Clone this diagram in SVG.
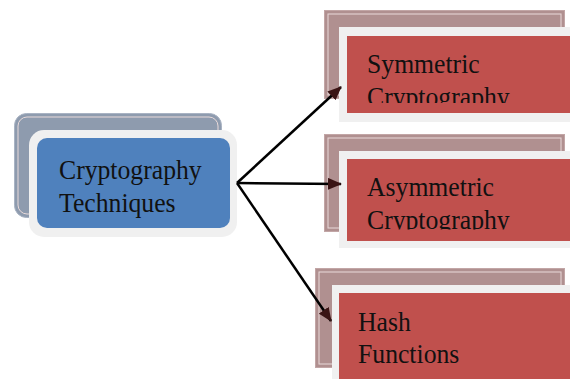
<svg xmlns="http://www.w3.org/2000/svg" width="570" height="379" viewBox="0 0 570 379">
  <style>
    .lbl { font-family: "Liberation Serif", "Times New Roman", serif; font-size: 25.7px; fill: #111; }
    .backBlue { fill: #8e9bae; stroke: #a9b3c3; stroke-width: 1; }
    .backRed { fill: #b09090; stroke: #c2a6a6; stroke-width: 1; }
    .inner { fill: none; stroke: #e9dada; stroke-width: 1; }
    .frame { fill: #f0f0f0; }
    .blue { fill: #4f81bd; }
    .red { fill: #c0504d; }
    .link { stroke: #000; stroke-width: 2.5; fill: none; marker-end: url(#head); }
  </style>
  <defs>
    <marker id="head" viewBox="0 0 14 12" refX="13" refY="6" markerWidth="14" markerHeight="12" markerUnits="userSpaceOnUse" orient="auto">
      <path d="M0,0 L14,6 L0,12 Z" fill="#3a1414"/>
    </marker>
    <clipPath id="clipSym"><rect x="347" y="36" width="223" height="67"/></clipPath>
    <clipPath id="clipAsym"><rect x="347" y="159" width="223" height="70.5"/></clipPath>
  </defs>
  <rect width="570" height="379" fill="#fff"/>

  <!-- root -->
  <g id="node-root">
    <rect class="backBlue" x="14.5" y="113.5" width="207" height="104" rx="12"/>
    <rect class="inner" x="18" y="117" width="200" height="97" rx="9" stroke="#c9d0dc"/>
    <rect class="frame" x="29" y="130" width="208" height="107" rx="15"/>
    <rect class="blue" x="37" y="138" width="193" height="90" rx="10"/>
    <text class="lbl" transform="translate(59,179) scale(1,1.1)">Cryptography</text>
    <text class="lbl" transform="translate(59,212) scale(1,1.1)">Techniques</text>
  </g>

  <!-- symmetric -->
  <g id="node-symmetric">
    <rect class="backRed" x="324.5" y="10.5" width="240" height="88"/>
    <rect class="inner" x="328" y="14" width="233" height="81"/>
    <rect class="frame" x="339" y="27" width="231" height="95"/>
    <rect class="red" x="347" y="36" width="223" height="77"/>
    <g clip-path="url(#clipSym)">
      <text class="lbl" transform="translate(367,73) scale(1,1.1)">Symmetric</text>
      <text class="lbl" transform="translate(367,106) scale(1,1.1)">Cryptography</text>
    </g>
  </g>

  <!-- asymmetric -->
  <g id="node-asymmetric">
    <rect class="backRed" x="324.5" y="134.5" width="240" height="97"/>
    <rect class="inner" x="328" y="138" width="233" height="90"/>
    <rect class="frame" x="339" y="151" width="231" height="97"/>
    <rect class="red" x="347" y="159" width="223" height="82"/>
    <g clip-path="url(#clipAsym)">
      <text class="lbl" transform="translate(367,196) scale(1,1.1)">Asymmetric</text>
      <text class="lbl" transform="translate(367,229) scale(1,1.1)">Cryptography</text>
    </g>
  </g>

  <!-- hash -->
  <g id="node-hash">
    <rect class="backRed" x="315.5" y="268.5" width="249" height="99"/>
    <rect class="inner" x="319" y="272" width="242" height="92"/>
    <rect class="frame" x="332" y="285" width="238" height="94"/>
    <rect class="red" x="339" y="293" width="231" height="86"/>
    <text class="lbl" transform="translate(358,331) scale(1,1.1)">Hash</text>
    <text class="lbl" transform="translate(358,363) scale(1,1.1)">Functions</text>
  </g>

  <!-- connectors -->
  <g id="connectors">
    <line class="link" x1="237" y1="183" x2="341" y2="87"/>
    <line class="link" x1="237" y1="183" x2="341" y2="184"/>
    <line class="link" x1="237" y1="183" x2="331" y2="321"/>
  </g>
</svg>
